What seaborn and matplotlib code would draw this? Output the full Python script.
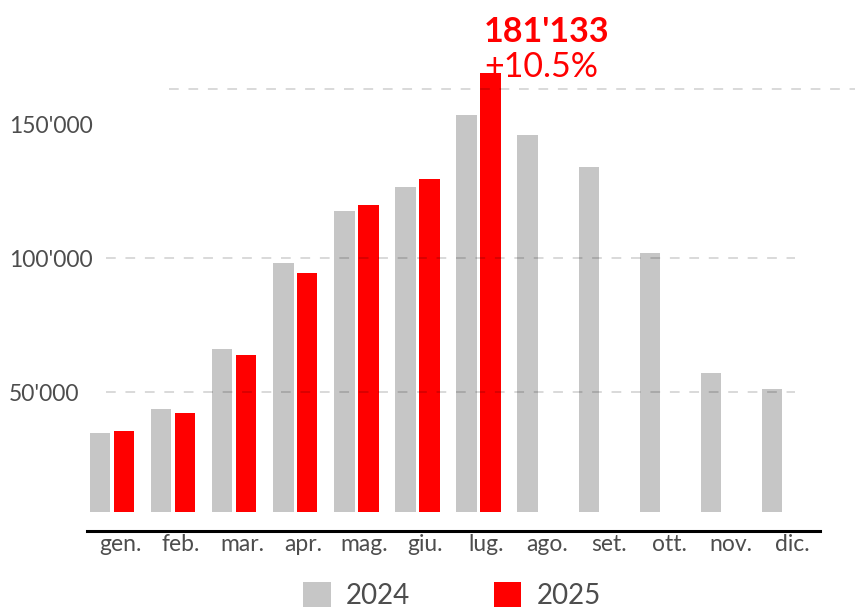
import pandas as pd
import seaborn as sns
import matplotlib.pyplot as plt
from matplotlib.ticker import FuncFormatter
from matplotlib.transforms import ScaledTranslation

# Monthly values
months = ['gen.', 'feb.', 'mar.', 'apr.', 'mag.', 'giu.',
          'lug.', 'ago.', 'set.', 'ott.', 'nov.', 'dic.']
values_2024 = [34700, 43650, 66040, 98120, 117530, 126480,
               153340, 145880, 133940, 101850, 57080, 51110]
values_2025 = [35440, 42160, 63800, 94390, 119770, 129460, 169010]
years = ['2024', '2025']
grid_values = [50000, 100000]
tick_values = [50000, 100000, 150000]
ref_line = 163000
peak_label = "181'133"
peak_change = "+10.5%"

# Long table for seaborn
rows = []
for m, v in zip(months, values_2024):
    rows.append({'month': m, 'year': '2024', 'value': v})
for m, v in zip(months, values_2025):
    rows.append({'month': m, 'year': '2025', 'value': v})
df = pd.DataFrame(rows)

sns.set_theme(style='white')
plt.rcParams['font.family'] = ['Lato', 'DejaVu Sans']

fig = plt.figure(figsize=(8.55, 6.08), dpi=100)
ax = fig.add_axes([0.1018, 0.1579, 0.8572, 0.7434])

sns.barplot(data=df, x='month', y='value', hue='year', order=months,
            hue_order=years, palette={'2024': '#c6c6c6', '2025': '#ff0000'},
            saturation=1, linewidth=0, width=0.785, gap=0.15,
            errorbar=None, ax=ax, zorder=2)

ax.set_xlim(-0.41, 11.59)
ax.set_ylim(5224, 173880)

# dashed gridlines drawn over the bars
ax.hlines(grid_values, -0.1, 11.18, colors='black', alpha=0.15,
          linestyles=(0, (5, 5)), linewidth=1.4, zorder=3)
ax.hlines(ref_line, 0.93, 12.3, colors='black', alpha=0.15,
          linestyles=(0, (5, 5)), linewidth=1.4, zorder=3, clip_on=False)

# axes styling
sns.despine(ax=ax, left=True, top=True, right=True)
ax.spines['bottom'].set_position(('outward', 13.7))
ax.spines['bottom'].set_linewidth(2.2)
ax.spines['bottom'].set_color('black')
ax.set_xlabel('')
ax.set_ylabel('')
ax.set_yticks(tick_values)
ax.yaxis.set_major_formatter(FuncFormatter(lambda v, p: f"{v:,.0f}".replace(',', "'")))
ax.tick_params(axis='y', length=0, pad=56, labelsize=16.5, labelcolor='#4d4d4d')
ax.tick_params(axis='x', length=0, pad=2, labelsize=16.5, labelcolor='#4d4d4d')
for lab in ax.get_yticklabels():
    lab.set_ha('left')
for lab in ax.get_xticklabels():
    lab.set_transform(lab.get_transform() + ScaledTranslation(0.08, 0, fig.dpi_scale_trans))

# peak annotation above the July 2025 bar
ax.annotate(peak_label, xy=(6.09, values_2025[6]), xytext=(0, 22.3),
            textcoords='offset points', ha='left', va='baseline',
            color='#ff0000', fontsize=24.5, fontweight='bold')
ax.annotate(peak_change, xy=(6.09, values_2025[6]), xytext=(0, -2.9),
            textcoords='offset points', ha='left', va='baseline',
            color='#ff0000', fontsize=24.5, zorder=4)

sns.move_legend(ax, 'upper left', bbox_to_anchor=(303 / 855, 1 - 582 / 608),
                bbox_transform=fig.transFigure, ncol=2, frameon=False,
                title=None, fontsize=20, handlelength=1.0, handleheight=1.0,
                handletextpad=0.55, columnspacing=3.0, borderpad=0,
                borderaxespad=0)
for t in ax.get_legend().get_texts():
    t.set_color('#4d4d4d')

fig.savefig('out.png', dpi=100)
